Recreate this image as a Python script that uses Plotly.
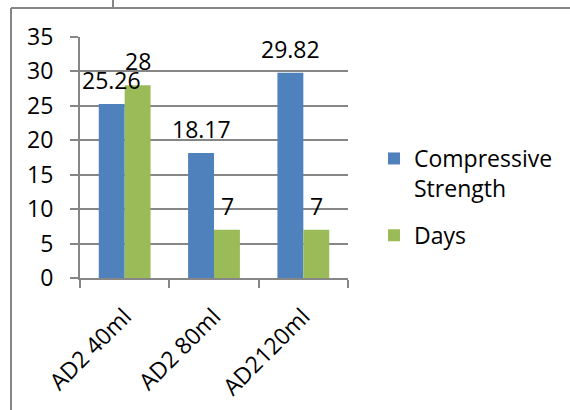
import plotly.graph_objects as go

# Mix results per admixture dosage
categories = ["AD2 40ml", "AD2 80ml", "AD2120ml"]
strength = [25.26, 18.17, 29.82]
days = [28, 7, 7]
series_names = ["Compressive<br>Strength", "Days"]
series_colors = ["#4F81BD", "#9BBB59"]

W, H = 570, 410
L, R, T, B = 80, 222, 37, 132
GRID = "#868686"
FONT = "Open Sans"
FS = 23

fig = go.Figure()
for i, (name, vals, col) in enumerate(zip(series_names, [strength, days],
                                          series_colors)):
    fig.add_trace(go.Bar(x=categories, y=vals, name=name, marker_color=col,
                         marker_line_width=0, legendgroup=f"s{i}"))

# value labels above each bar
annotations = []
for offset, vals in zip([-13, 13], [strength, days]):
    for c, v in zip(categories, vals):
        annotations.append(dict(x=c, y=v, xref="x", yref="y", text=f"{v:g}",
                                showarrow=False, xshift=offset, yshift=6,
                                yanchor="bottom", xanchor="center",
                                font=dict(family=FONT, size=FS, color="black")))

# helpers: pixel -> paper coordinates
pw, ph = W - L - R, H - T - B
px = lambda x: (x - L) / pw
py = lambda y: (H - B - y) / ph

shapes = [
    dict(type="line", xref="paper", yref="paper", x0=px(11), x1=px(11),
         y0=py(8), y1=py(410), line=dict(color=GRID, width=2)),
    dict(type="line", xref="paper", yref="paper", x0=px(11), x1=px(570),
         y0=py(8), y1=py(8), line=dict(color=GRID, width=2)),
    dict(type="line", xref="paper", yref="paper", x0=px(113), x1=px(113),
         y0=py(0), y1=py(8), line=dict(color=GRID, width=2)),
]

fig.update_layout(
    width=W, height=H,
    margin=dict(l=L, r=R, t=T, b=B, autoexpand=False),
    paper_bgcolor="white", plot_bgcolor="white",
    font=dict(family=FONT, size=FS, color="black"),
    barmode="group", bargap=0.42, bargroupgap=0,
    annotations=annotations, shapes=shapes,
    legend=dict(x=px(374), y=py(137), xanchor="left", yanchor="top",
                valign="top",
                font=dict(family=FONT, size=FS, color="black"),
                tracegroupgap=14, bgcolor="rgba(0,0,0,0)"),
    xaxis=dict(showline=True, linecolor=GRID, linewidth=2,
               ticks="outside", tickson="boundaries", ticklen=8,
               tickcolor=GRID, tickwidth=2, tickangle=-45,
               ticklabelstandoff=14,
               showgrid=False, zeroline=False),
    yaxis=dict(range=[0, 35], dtick=5, showline=True, linecolor=GRID,
               linewidth=2, ticks="outside", ticklen=8, tickcolor=GRID,
               tickwidth=2, showgrid=True, gridcolor=GRID, gridwidth=2,
               ticklabelstandoff=12, zeroline=False),
)

fig.write_html("out.html")
